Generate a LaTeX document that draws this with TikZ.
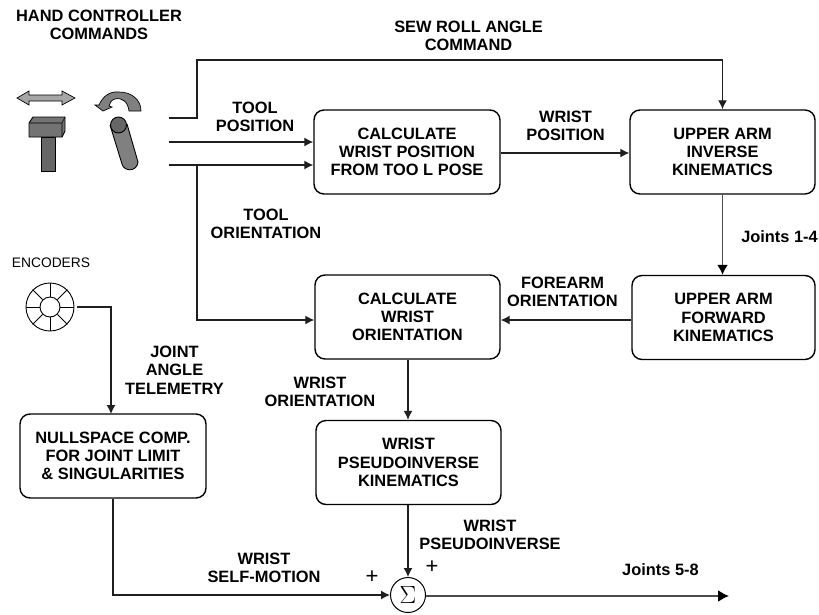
\documentclass[tikz,border=0pt]{standalone}
\usepackage{fontspec}
\setmainfont{Liberation Sans}
\usetikzlibrary{arrows.meta,calc}
\definecolor{lne}{gray}{0.12}
\tikzset{
  blockbox/.style={draw=black,line width=1.4pt,rounded corners=10pt,minimum width=#1,minimum height=84pt,align=center,inner sep=0pt,font=\fontsize{16.4}{18.3}\selectfont\bfseries},
  blockbox/.default=186pt,
  lbl/.style={align=center,inner sep=0pt,font=\fontsize{16.4}{18.3}\selectfont\bfseries},
  conn/.style={draw=lne,line width=1.3pt},
  arr/.style={conn,-{Latex[length=9pt,width=9pt]}},
  ico/.style={draw=black,line width=.9pt,fill=black!50}
}
\begin{document}
\begin{tikzpicture}[x=1pt,y=-1pt]
\useasboundingbox (0,0) rectangle (819,614);
% blocks
\node[blockbox] (pos) at (407,152) {CALCULATE\\WRIST POSITION\\FROM TOO L POSE};
\node[blockbox=185pt] (inv) at (722.5,152) {UPPER ARM\\INVERSE\\KINEMATICS};
\node[blockbox=183pt] (fwd) at (723.5,317.5) {UPPER ARM\\FORWARD\\KINEMATICS};
\node[blockbox=185pt] (ori) at (407.5,317) {CALCULATE\\WRIST\\ORIENTATION};
\node[blockbox=185pt] (pse) at (408.5,462.5) {WRIST\\PSEUDOINVERSE\\KINEMATICS};
\node[blockbox] (nul) at (113,456) {NULLSPACE COMP.\\FOR JOINT LIMIT\\\& SINGULARITIES};
\node[draw=black,line width=1pt,circle,minimum size=35pt,inner sep=0pt,font=\fontsize{26}{26}\selectfont] (sum) at (408,595) {$\Sigma$};
% free ends
\coordinate (s1) at (169,118);
\coordinate (s2) at (169,142);
\coordinate (s3) at (169,165);
\coordinate (b3) at (197,165);
\coordinate (out) at (729,596);
% encoder
\node[circle,minimum size=48pt,inner sep=0pt,draw=black,line width=.9pt] (enc) at (50,307) {};
\node[circle,minimum size=20pt,inner sep=0pt,draw=black,line width=.9pt,fill=white] (enci) at (50,307) {};
\foreach \a in {0,45,...,315}{\draw[black,line width=.8pt] (enci.\a) -- (enc.\a);}
% connectors
\draw[arr] (s1) -- (197,118) -- (197,60) -| (inv.north);
\draw[arr] (s2) -- (s2 -| pos.west);
\draw[arr] (s3) -- (s3 -| pos.west);
\draw[arr] (b3) -- (197,320) -- (ori.west |- 0,320);
\draw[arr] (pos.east |- 0,153) -- (inv.west |- 0,153);
\draw[draw=black!70,line width=1.7pt,-{Latex[length=10pt,width=11pt,black]}] (inv.south) -- (inv.south |- fwd.north);
\draw[arr] (fwd.west |- 0,320) -- (ori.east |- 0,320);
\draw[arr] (ori.south -| 408,0) -- (pse.north -| 408,0);
\draw[arr] (pse.south -| sum.north) -- (sum.north);
\draw[arr] (enc.east) ++(3,0) -- (111,307) -- (111,414);
\draw[arr] (nul.south) |- (sum.west);
\draw[draw=black!70,line width=1.7pt,-{Latex[length=11pt,width=12pt,black]}] (sum.east |- out) -- (out);
% icons: arrow
\draw[ico,fill=black!35,line width=.7pt] (17,98) -- (29,91) -- (29,95) -- (62,95) -- (62,91) -- (75,98) -- (62,105) -- (62,101) -- (29,101) -- (29,105) -- cycle;
% T tool
\draw[ico,fill=black!60] (41,137) rectangle (55,171);
\draw[ico,fill=black!55] (29,123) -- (33,117) -- (65,117) -- (65,131) -- (62,137) -- (29,137) -- cycle;
\draw[black,line width=.6pt] (29,123) -- (62,123) -- (65,117) (62,123) -- (62,137);
% rotate arrow
\draw[ico,fill=black!50,line width=.7pt] (141,111) -- (129,111) .. controls (128,102) and (122,97) .. (115,99) .. controls (111,100) and (110,103) .. (109,106) -- (112,107) -- (103,111) -- (95,105) -- (99,105) .. controls (103,96) and (110,91) .. (119,92) .. controls (132,92) and (141,100) .. (141,111) -- cycle;
% cylinder
\draw[ico,fill=black!50] (110,125) -- (122,164) .. controls (124,172) and (137,172) .. (138,162) -- (127,124);
\draw[ico,fill=black!60] (118.5,125) circle[radius=8];
% labels
\node[lbl] at (99,25) {HAND CONTROLLER\\COMMANDS};
\node[lbl] at (468.5,36) {SEW ROLL ANGLE\\COMMAND};
\node[lbl] at (255,117) {TOOL\\POSITION};
\node[lbl] at (565.5,126) {WRIST\\POSITION};
\node[lbl] at (266,224) {TOOL\\ORIENTATION};
\node[lbl,anchor=east] at (818,237) {Joints 1-4};
\node[lbl] at (562.5,292) {FOREARM\\ORIENTATION};
\node[lbl] at (174.5,370) {JOINT\\ANGLE\\TELEMETRY};
\node[lbl] at (320,392) {WRIST\\ORIENTATION};
\node[lbl] at (490,535) {WRIST\\PSEUDOINVERSE};
\node[lbl] at (264,568) {WRIST\\SELF-MOTION};
\node[lbl,anchor=west] at (622,570) {Joints 5-8};
\node[inner sep=0pt,font=\fontsize{13.8}{14}\selectfont] at (51,263) {ENCODERS};
\node[inner sep=0pt,font=\fontsize{22}{22}\selectfont] at (372,577) {+};
\node[inner sep=0pt,font=\fontsize{22}{22}\selectfont] at (432,567) {+};
\end{tikzpicture}
\end{document}
